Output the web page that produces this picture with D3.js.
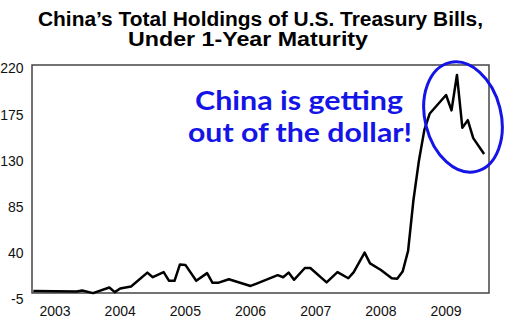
<!DOCTYPE html>
<html>
<head>
<meta charset="utf-8">
<script src="https://cdn.jsdelivr.net/npm/d3@7"></script>
<style>
  html, body { margin: 0; padding: 0; background: #fff; }
  svg { display: block; }
</style>
</head>
<body>
<svg id="chart" width="507" height="326"></svg>
<script>
// ---- data ----
const titleLines = ["China\u2019s Total Holdings of U.S. Treasury Bills,", "Under 1-Year Maturity"];
const annotationLines = ["China is getting", "out of the dollar!"];
const months = ["2002-09","2003-05","2003-06","2003-08","2003-11","2003-12","2004-01","2004-03","2004-06","2004-07",
                "2004-09","2004-10","2004-11","2004-12","2005-01","2005-03","2005-05","2005-06","2005-07","2005-09",
                "2006-01","2006-02","2006-06","2006-07","2006-08","2006-09","2006-11","2006-12","2007-03","2007-05",
                "2007-07","2007-08","2007-10","2007-11","2008-01","2008-03","2008-04","2008-05","2008-06","2008-07",
                "2008-08","2008-09","2008-10","2009-01","2009-02","2009-03","2009-04","2009-05","2009-06","2009-08"];
const holdings = [3, 2.5, 3.5, 1, 6.5, 2, 5.5, 7.5, 21, 16.5,
                  21.5, 13, 13, 29, 28.5, 13, 20.5, 11, 11, 14.5,
                  8, 10, 18.5, 16.5, 21, 14, 25.5, 25.5, 11.5, 21.5,
                  15.5, 21.5, 40.5, 30, 23.5, 15.5, 15, 22, 42, 92,
                  130, 160, 176, 194, 179, 213.5, 162, 169.5, 152, 136.5];
const yTicks = [-5, 40, 85, 130, 175, 220];
const yearTicks = ["2003","2004","2005","2006","2007","2008","2009"];

// month index from the series start (Sep 2002)
const monthIndex = s => { const [y, m] = s.split("-").map(Number); return (y - 2002) * 12 + (m - 9); };
const data = months.map((m, i) => ({ t: monthIndex(m), v: holdings[i] }));

const svg = d3.select("#chart");
const frame = { left: 32, top: 65, right: 489, bottom: 293 };

const x = d3.scaleLinear().domain([0, 83]).range([33.3, 484.1]);
const y = d3.scaleLinear().domain([-5, 220]).range([299.3, 68.3]);

// title
svg.append("text").attr("x", 38).attr("y", 26)
  .attr("font-family", "Liberation Sans, Arial, sans-serif").attr("font-weight", "bold").attr("font-size", 20)
  .attr("textLength", 445).attr("lengthAdjust", "spacingAndGlyphs").attr("fill", "#000")
  .text(titleLines[0]);
svg.append("text").attr("x", 128).attr("y", 46)
  .attr("font-family", "Liberation Sans, Arial, sans-serif").attr("font-weight", "bold").attr("font-size", 20)
  .attr("textLength", 240).attr("lengthAdjust", "spacingAndGlyphs").attr("fill", "#000")
  .text(titleLines[1]);

// frame
svg.append("rect").attr("x", frame.left).attr("y", frame.top)
  .attr("width", frame.right - frame.left).attr("height", frame.bottom - frame.top)
  .attr("fill", "none").attr("stroke", "#444").attr("stroke-width", 1.5);

// y tick labels
svg.append("g").selectAll("text").data(yTicks).join("text")
  .attr("x", 23.5).attr("y", d => y(d)).attr("dy", "0.36em")
  .attr("text-anchor", "end")
  .attr("font-family", "Liberation Sans Narrow, Arial Narrow, Liberation Sans, sans-serif").attr("font-size", 14)
  .attr("fill", "#111")
  .text(d => d);

// x tick labels (January of each year)
svg.append("g").selectAll("text").data(yearTicks).join("text")
  .attr("x", d => x(monthIndex(d + "-01"))).attr("y", 311).attr("dy", "0.36em")
  .attr("text-anchor", "middle")
  .attr("font-family", "Liberation Sans Narrow, Arial Narrow, Liberation Sans, sans-serif").attr("font-size", 14)
  .attr("fill", "#111")
  .text(d => d);

// line
const line = d3.line().x(d => x(d.t)).y(d => y(d.v));
svg.append("path").datum(data).attr("d", line)
  .attr("fill", "none").attr("stroke", "#000").attr("stroke-width", 2.5)
  .attr("stroke-linejoin", "round");

// annotation
const blue = "#1414e6";
svg.append("text").attr("x", 195).attr("y", 110)
  .attr("font-family", "Lato, sans-serif").attr("font-weight", "bold").attr("font-size", 27)
  .attr("textLength", 208).attr("lengthAdjust", "spacingAndGlyphs").attr("fill", blue)
  .text(annotationLines[0]);
svg.append("text").attr("x", 188).attr("y", 142)
  .attr("font-family", "Lato, sans-serif").attr("font-weight", "bold").attr("font-size", 27)
  .attr("textLength", 224).attr("lengthAdjust", "spacingAndGlyphs").attr("fill", blue)
  .text(annotationLines[1]);
svg.append("ellipse").attr("cx", 463).attr("cy", 117).attr("rx", 38).attr("ry", 56)
  .attr("transform", "rotate(-14 463 117)")
  .attr("fill", "none").attr("stroke", blue).attr("stroke-width", 3);
</script>
</body>
</html>
